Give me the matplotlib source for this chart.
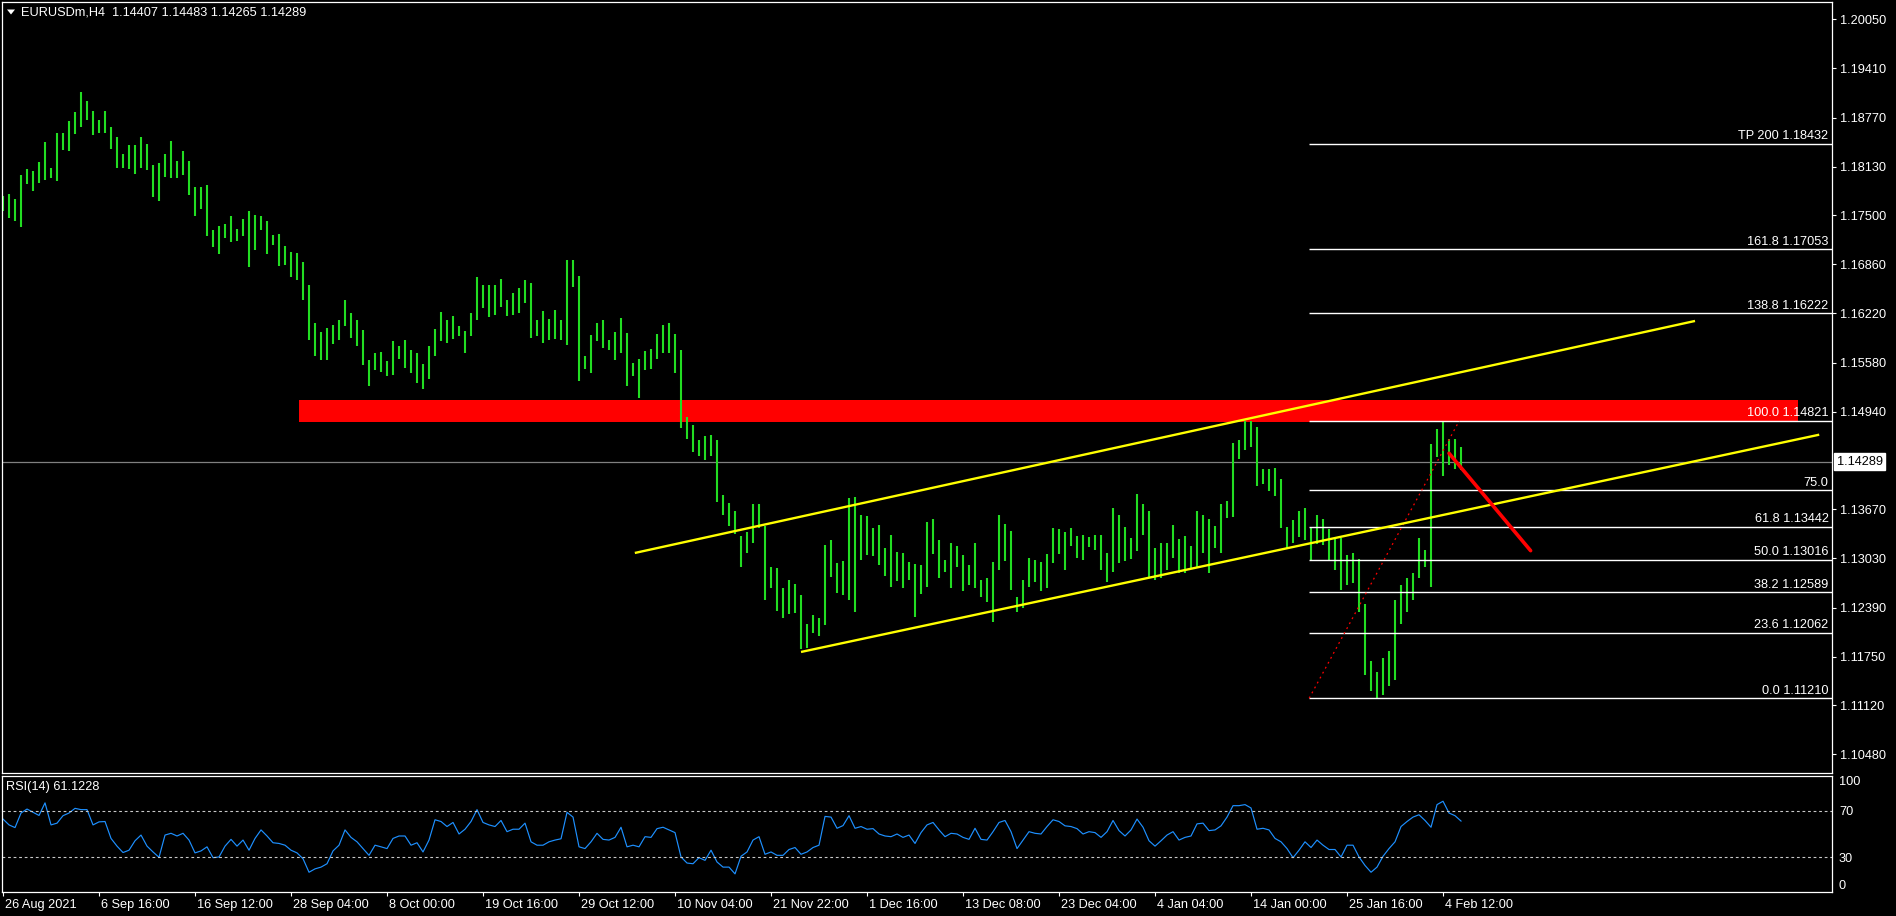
import numpy as np
import matplotlib
matplotlib.use("Agg")
import matplotlib.pyplot as plt
from matplotlib.transforms import ScaledTranslation, blended_transform_factory
from matplotlib.patches import Polygon, Rectangle

plt.rcParams['font.family'] = ['Liberation Sans', 'DejaVu Sans']

# EURUSDm H4, every entry = 3 consecutive H4 bars (high / low)
highs = [
    1.1775, 1.1778, 1.1771, 1.1802, 1.1810, 1.1808, 1.1819, 1.1845, 1.1812, 1.1857,
    1.1857, 1.1872, 1.1884, 1.1910, 1.1899, 1.1886, 1.1874, 1.1886, 1.1865, 1.1852,
    1.1830, 1.1841, 1.1841, 1.1852, 1.1843, 1.1815, 1.1818, 1.1830, 1.1846, 1.1820,
    1.1833, 1.1821, 1.1786, 1.1786, 1.1789, 1.1731, 1.1736, 1.1739, 1.1749, 1.1732,
    1.1745, 1.1755, 1.1750, 1.1749, 1.1742, 1.1724, 1.1725, 1.1710, 1.1702, 1.1701,
    1.1689, 1.1659, 1.1610, 1.1598, 1.1603, 1.1607, 1.1614, 1.1640, 1.1623, 1.1614,
    1.1600, 1.1561, 1.1571, 1.1572, 1.1560, 1.1586, 1.1580, 1.1588, 1.1574, 1.1571,
    1.1556, 1.1579, 1.1602, 1.1624, 1.1613, 1.1619, 1.1606, 1.1599, 1.1623, 1.1669,
    1.1659, 1.1659, 1.1659, 1.1667, 1.1640, 1.1648, 1.1655, 1.1666, 1.1661, 1.1614,
    1.1625, 1.1615, 1.1627, 1.1614, 1.1692, 1.1691, 1.1671, 1.1566, 1.1594, 1.1609,
    1.1614, 1.1588, 1.1598, 1.1616, 1.1596, 1.1558, 1.1563, 1.1573, 1.1576, 1.1595,
    1.1607, 1.1609, 1.1595, 1.1575, 1.1487, 1.1477, 1.1457, 1.1463, 1.1464, 1.1457,
    1.1385, 1.1375, 1.1365, 1.1332, 1.1338, 1.1374, 1.1374, 1.1345, 1.1292, 1.1290,
    1.1265, 1.1275, 1.1270, 1.1255, 1.1217, 1.1229, 1.1226, 1.1320, 1.1327, 1.1297,
    1.1300, 1.1382, 1.1383, 1.1359, 1.1358, 1.1343, 1.1347, 1.1316, 1.1333, 1.1311,
    1.1310, 1.1298, 1.1296, 1.1295, 1.1351, 1.1354, 1.1327, 1.1301, 1.1323, 1.1319,
    1.1307, 1.1295, 1.1323, 1.1275, 1.1277, 1.1298, 1.1359, 1.1348, 1.1339, 1.1253,
    1.1275, 1.1303, 1.1301, 1.1298, 1.1309, 1.1342, 1.1341, 1.1337, 1.1342, 1.1332,
    1.1334, 1.1331, 1.1333, 1.1333, 1.1310, 1.1368, 1.1360, 1.1344, 1.1330, 1.1387,
    1.1374, 1.1365, 1.1316, 1.1323, 1.1323, 1.1346, 1.1328, 1.1332, 1.1319, 1.1365,
    1.1360, 1.1354, 1.1345, 1.1374, 1.1378, 1.1453, 1.1457, 1.1482, 1.1482, 1.1474,
    1.1419, 1.1420, 1.1421, 1.1406, 1.1344, 1.1353, 1.1365, 1.1368, 1.1343, 1.1360,
    1.1354, 1.1341, 1.1330, 1.1329, 1.1307, 1.1310, 1.1302, 1.1243, 1.1170, 1.1155,
    1.1173, 1.1183, 1.1249, 1.1268, 1.1278, 1.1284, 1.1330, 1.1314, 1.1452, 1.1471,
    1.1482, 1.1459, 1.1458, 1.1448,
]
lows = [
    1.1756, 1.1746, 1.1742, 1.1734, 1.1791, 1.1782, 1.1792, 1.1796, 1.1798, 1.1794,
    1.1835, 1.1834, 1.1856, 1.1865, 1.1874, 1.1854, 1.1857, 1.1857, 1.1836, 1.1811,
    1.1811, 1.1810, 1.1804, 1.1811, 1.1809, 1.1773, 1.1768, 1.1799, 1.1798, 1.1798,
    1.1802, 1.1776, 1.1749, 1.1758, 1.1723, 1.1709, 1.1699, 1.1720, 1.1715, 1.1716,
    1.1723, 1.1683, 1.1705, 1.1730, 1.1699, 1.1711, 1.1684, 1.1685, 1.1669, 1.1666,
    1.1640, 1.1588, 1.1567, 1.1562, 1.1562, 1.1582, 1.1587, 1.1606, 1.1590, 1.1580,
    1.1555, 1.1528, 1.1548, 1.1546, 1.1541, 1.1542, 1.1563, 1.1551, 1.1544, 1.1531,
    1.1524, 1.1536, 1.1566, 1.1586, 1.1583, 1.1589, 1.1592, 1.1571, 1.1592, 1.1614,
    1.1629, 1.1617, 1.1620, 1.1631, 1.1619, 1.1620, 1.1622, 1.1635, 1.1590, 1.1592,
    1.1584, 1.1588, 1.1589, 1.1588, 1.1581, 1.1657, 1.1534, 1.1549, 1.1545, 1.1586,
    1.1577, 1.1574, 1.1562, 1.1571, 1.1528, 1.1540, 1.1512, 1.1548, 1.1549, 1.1563,
    1.1571, 1.1570, 1.1544, 1.1473, 1.1458, 1.1442, 1.1436, 1.1431, 1.1436, 1.1377,
    1.1360, 1.1345, 1.1335, 1.1292, 1.1310, 1.1323, 1.1343, 1.1249, 1.1264, 1.1235,
    1.1225, 1.1231, 1.1232, 1.1185, 1.1187, 1.1206, 1.1202, 1.1216, 1.1279, 1.1258,
    1.1256, 1.1249, 1.1233, 1.1301, 1.1307, 1.1306, 1.1294, 1.1280, 1.1266, 1.1274,
    1.1265, 1.1275, 1.1227, 1.1257, 1.1266, 1.1309, 1.1278, 1.1285, 1.1264, 1.1292,
    1.1260, 1.1268, 1.1265, 1.1253, 1.1246, 1.1220, 1.1288, 1.1300, 1.1262, 1.1233,
    1.1239, 1.1266, 1.1272, 1.1260, 1.1264, 1.1297, 1.1309, 1.1288, 1.1319, 1.1303,
    1.1301, 1.1318, 1.1314, 1.1288, 1.1272, 1.1285, 1.1297, 1.1299, 1.1302, 1.1313,
    1.1333, 1.1278, 1.1275, 1.1277, 1.1288, 1.1303, 1.1284, 1.1284, 1.1291, 1.1290,
    1.1310, 1.1284, 1.1317, 1.1310, 1.1356, 1.1357, 1.1433, 1.1444, 1.1448, 1.1397,
    1.1400, 1.1391, 1.1384, 1.1342, 1.1317, 1.1323, 1.1331, 1.1327, 1.1301, 1.1322,
    1.1320, 1.1301, 1.1288, 1.1262, 1.1268, 1.1271, 1.1233, 1.1151, 1.1131, 1.1121,
    1.1125, 1.1137, 1.1145, 1.1218, 1.1233, 1.1249, 1.1278, 1.1292, 1.1266, 1.1435,
    1.1410, 1.1424, 1.1420, 1.1418,
]
rsi_values = [
    62.8, 57.8, 55.5, 68.0, 71.4, 68.6, 65.9, 76.7, 57.8, 59.3,
    65.7, 68.0, 72.0, 70.9, 70.9, 57.8, 60.4, 60.7, 46.2, 39.6,
    34.1, 36.1, 44.2, 49.1, 39.6, 34.6, 30.0, 49.1, 50.6, 48.3,
    50.6, 44.8, 33.8, 35.5, 39.0, 29.7, 30.3, 39.6, 45.4, 39.6,
    44.8, 36.1, 46.2, 53.5, 48.3, 42.5, 41.9, 40.4, 36.1, 33.8,
    28.8, 17.2, 20.1, 21.6, 24.5, 35.5, 40.4, 53.5, 47.1, 43.3,
    37.5, 31.7, 40.4, 39.0, 37.5, 46.2, 48.3, 48.3, 40.4, 42.5,
    34.6, 44.8, 62.2, 60.7, 56.4, 59.9, 50.0, 54.1, 60.7, 70.9,
    59.9, 57.8, 56.4, 61.6, 52.0, 54.1, 54.1, 59.3, 43.3, 40.4,
    40.4, 43.3, 44.8, 45.9, 68.6, 64.5, 39.0, 37.5, 43.3, 50.6,
    45.4, 44.8, 47.1, 55.8, 39.0, 40.4, 39.0, 47.7, 47.1, 54.6,
    55.8, 53.5, 51.2, 30.3, 25.1, 24.5, 29.7, 27.4, 36.1, 26.0,
    21.6, 21.6, 15.8, 30.9, 34.6, 44.8, 47.7, 32.6, 34.6, 31.7,
    31.7, 36.7, 38.4, 32.6, 34.6, 38.4, 40.4, 65.1, 64.5, 54.9,
    57.2, 65.7, 54.9, 56.4, 54.1, 54.6, 50.0, 48.3, 47.7, 50.0,
    47.1, 49.1, 41.9, 51.2, 57.8, 59.9, 53.5, 47.7, 50.6, 50.0,
    47.1, 45.4, 54.9, 45.4, 44.8, 52.0, 59.9, 61.6, 52.0, 37.5,
    44.8, 52.0, 50.6, 50.0, 56.4, 62.2, 60.7, 57.0, 56.4, 54.6,
    50.0, 52.0, 51.2, 47.1, 52.0, 61.6, 52.9, 48.3, 53.5, 62.8,
    55.8, 44.2, 39.6, 44.2, 49.1, 52.0, 44.8, 47.1, 48.3, 58.7,
    59.3, 52.9, 53.5, 57.0, 64.5, 74.3, 74.3, 75.2, 72.3, 54.1,
    54.9, 53.5, 46.2, 43.3, 37.5, 29.7, 36.1, 43.3, 38.4, 44.8,
    40.4, 36.7, 36.7, 30.3, 40.4, 40.4, 30.3, 23.0, 17.2, 21.6,
    30.9, 37.5, 43.3, 56.4, 60.7, 64.5, 66.5, 61.6, 55.8, 75.2,
    78.1, 68.0, 65.7, 61.1,
]

date_labels = ["26 Aug 2021", "6 Sep 16:00", "16 Sep 12:00", "28 Sep 04:00", "8 Oct 00:00",
               "19 Oct 16:00", "29 Oct 12:00", "10 Nov 04:00", "21 Nov 22:00", "1 Dec 16:00",
               "13 Dec 08:00", "23 Dec 04:00", "4 Jan 04:00", "14 Jan 00:00", "25 Jan 16:00",
               "4 Feb 12:00"]
price_ticks = [1.20050, 1.19410, 1.18770, 1.18130, 1.17500, 1.16860, 1.16220, 1.15580,
               1.14940, 1.13670, 1.13030, 1.12390, 1.11750, 1.11120, 1.10480]

title = "EURUSDm,H4  1.14407 1.14483 1.14265 1.14289"
last_price = 1.14289
rsi_last = "61.1228"

# drawn objects (bar index, price)
upper_channel = [(105.3, 1.13101), (282.0, 1.16122)]
lower_channel = [(133.0, 1.11812), (302.7, 1.14641)]
red_arrow = [(241.0, 1.14399), (254.6, 1.13131)]
zone = (49.3, 299.2, 1.14810, 1.15093)
fib_from = (217.7, 1.11210)
fib_to = (242.7, 1.14821)
fib_ratios = [0.0, 23.6, 38.2, 50.0, 61.8, 75.0, 100.0, 138.8, 161.8, 200.0]

FS = 9.2
W, H = 1896, 916
fig = plt.figure(figsize=(W / 100, H / 100), dpi=100, facecolor='black')
ax = fig.add_axes([2 / W, (H - 773) / H, 1830 / W, 771 / H], facecolor='black')
rax = fig.add_axes([2 / W, (H - 892.3) / H, 1830 / W, 116.6 / H], facecolor='black')

xmin, xmax = -0.17, 304.83
x = np.arange(len(highs))

# price panel
zx0, zx1, zy0, zy1 = zone
ax.add_patch(Rectangle((zx0, zy0), zx1 - zx0, zy1 - zy0, color='#ff0000', lw=0, zorder=1))
ax.axhline(last_price, color='#808080', lw=0.9, zorder=1.5)
ax.vlines(x, lows, highs, color='#22dd22', lw=1.5, zorder=2)

lo, hi = fib_from[1], fib_to[1]
for r in fib_ratios:
    lvl = lo + r / 100 * (hi - lo)
    ax.hlines(lvl, fib_from[0], xmax, color='white', lw=1.0, zorder=2.5)
    if r == 75.0:
        txt = "75.0"
    elif r == 200.0:
        txt = "TP 200 %.5f" % lvl
    else:
        txt = "%.1f %.5f" % (r, lvl)
    ax.annotate(txt, xy=(1.0, lvl), xycoords=blended_transform_factory(ax.transAxes, ax.transData),
                xytext=(-2.5, 1.2), textcoords='offset points', ha='right', va='bottom',
                color='white', fontsize=FS, zorder=5)

ax.plot([fib_from[0], fib_to[0]], [fib_from[1], fib_to[1]], color='red', lw=0.9,
        ls=(0, (1.5, 3)), zorder=3)
for line in (upper_channel, lower_channel):
    ax.plot([line[0][0], line[1][0]], [line[0][1], line[1][1]], color='#ffff00', lw=1.7,
            zorder=3, solid_capstyle='butt')
ax.plot([red_arrow[0][0], red_arrow[1][0]], [red_arrow[0][1], red_arrow[1][1]], color='#ff0000',
        lw=2.6, zorder=3.5, solid_capstyle='round')

ax.set_xlim(xmin, xmax)
ax.set_ylim(1.10236, 1.20275)
ax.set_xticks([])
ax.yaxis.tick_right()
ax.set_yticks(price_ticks)
ax.set_yticklabels(["%.5f" % p for p in price_ticks])
ax.tick_params(axis='y', colors='white', labelsize=FS, length=3, width=0.8, pad=3)

ax.annotate("%.5f" % last_price, xy=(1.0, last_price),
            xycoords=blended_transform_factory(ax.transAxes, ax.transData),
            xytext=(3.3, 0), textcoords='offset points', ha='left', va='center',
            color='black', fontsize=FS,
            bbox=dict(boxstyle='square,pad=0.18', fc='white', ec='white'))

# rsi panel
rax.plot(x, rsi_values, color='#1e90ff', lw=0.85)
for lvl in (70, 30):
    rax.axhline(lvl, color='#c8c8c8', lw=0.8, ls=(0, (2.5, 2.5)))
rax.set_xlim(xmin, xmax)
rax.set_ylim(0, 100)
rax.yaxis.tick_right()
rax.set_yticks([100, 70, 30, 0])
rax.set_yticklabels(['100', '70', '30', '0'])
rax.tick_params(axis='y', colors='white', labelsize=FS, length=0, pad=5)
ylabs = rax.get_yticklabels()
ylabs[0].set_va('top')
ylabs[3].set_va('bottom')

rax.set_xticks(np.arange(len(date_labels)) * 16)
rax.set_xticklabels(date_labels)
rax.tick_params(axis='x', colors='white', labelsize=FS, length=3, width=0.8, pad=2)
shift = ScaledTranslation(2 / 100, 0, fig.dpi_scale_trans)
for lab in rax.get_xticklabels():
    lab.set_ha('left')
    lab.set_transform(lab.get_transform() + shift)

for a in (ax, rax):
    for s in a.spines.values():
        s.set_color('white')
        s.set_linewidth(0.9)

fig.text(6 / W, 1 - 787 / H, "RSI(14) %s" % rsi_last, color='white', fontsize=FS, va='center')
fig.text(21 / W, 1 - 12.5 / H, title, color='white', fontsize=FS, va='center')
fig.patches.append(Polygon([[7, H - 9.5], [15, H - 9.5], [11, H - 14.5]], closed=True,
                           transform=None, fc='white', ec='none'))

fig.savefig('out.png', dpi=100, facecolor='black')
